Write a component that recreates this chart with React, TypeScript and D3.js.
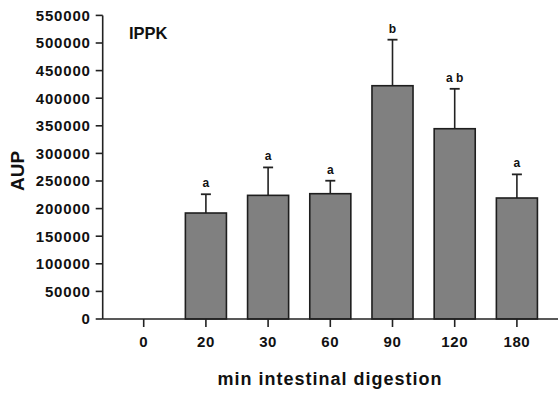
import React from "react";
import * as d3 from "d3";

const categories = ["0", "20", "30", "60", "90", "120", "180"];
const means = [0, 192000, 224000, 227000, 422600, 344700, 219200];
const errors = [0, 34000, 50600, 23500, 83400, 72300, 42800];
const letters = ["", "a", "a", "a", "b", "a b", "a"];
const yTicks = [0, 50000, 100000, 150000, 200000, 250000, 300000, 350000, 400000, 450000, 500000, 550000];

const W = 558;
const H = 394;
const FONT = "'Liberation Sans', Arial, sans-serif";

export default function App() {
  const axisX = 102.7;
  const axisY = 319;
  const y = d3.scaleLinear().domain([0, 550000]).range([axisY, 15.4]);
  const x = d3
    .scaleBand<string>()
    .domain(categories)
    .range([112.6, 548])
    .paddingInner(0.34)
    .paddingOuter(0.17);
  const bw = x.bandwidth();

  return (
    <svg
      width={W}
      height={H}
      style={{ position: "absolute", left: 0, top: 0, background: "#fff" }}
      fontFamily={FONT}
    >
      <rect width={W} height={H} fill="#fff" />
      {/* bars */}
      {categories.map((c, i) => {
        if (means[i] <= 0) return null;
        const x0 = x(c)!;
        const cx = x0 + bw / 2;
        const top = y(means[i]);
        const et = y(means[i] + errors[i]);
        return (
          <g key={c}>
            <line x1={cx} x2={cx} y1={top} y2={et} stroke="#222" strokeWidth={1.6} />
            <line x1={cx - 5} x2={cx + 5} y1={et} y2={et} stroke="#222" strokeWidth={1.8} />
            <rect
              x={x0}
              y={top}
              width={bw}
              height={axisY - top}
              fill="#808080"
              stroke="#1e1e1e"
              strokeWidth={1.6}
            />
            <text
              x={cx}
              y={et - 7}
              textAnchor="middle"
              fontSize={12}
              fontWeight="bold"
              fill="#111"
            >
              {letters[i]}
            </text>
          </g>
        );
      })}
      {/* y axis */}
      <line x1={axisX} x2={axisX} y1={y(550000)} y2={axisY} stroke="#222" strokeWidth={1.6} />
      {yTicks.map((t) => (
        <g key={t}>
          <line x1={axisX - 7} x2={axisX} y1={y(t)} y2={y(t)} stroke="#222" strokeWidth={1.6} />
          <text
            x={axisX - 12}
            y={y(t)}
            dy="0.36em"
            textAnchor="end"
            fontSize={15}
            fontWeight="bold"
            letterSpacing={0.8}
            fill="#111"
          >
            {t}
          </text>
        </g>
      ))}
      {/* x axis */}
      <line x1={axisX} x2={W} y1={axisY} y2={axisY} stroke="#222" strokeWidth={1.6} />
      {categories.map((c) => {
        const cx = x(c)! + bw / 2;
        return (
          <g key={c}>
            <line x1={cx} x2={cx} y1={axisY} y2={axisY + 8} stroke="#222" strokeWidth={1.6} />
            <text
              x={cx}
              y={347}
              textAnchor="middle"
              fontSize={15}
              fontWeight="bold"
              letterSpacing={0.6}
              fill="#111"
            >
              {c}
            </text>
          </g>
        );
      })}
      <text
        x={330}
        y={385}
        textAnchor="middle"
        fontSize={18}
        fontWeight="bold"
        letterSpacing={1}
        fill="#111"
      >
        min intestinal digestion
      </text>
      <text
        transform={`translate(24,171) rotate(-90)`}
        textAnchor="middle"
        fontSize={19}
        fontWeight="bold"
        fill="#111"
      >
        AUP
      </text>
      <text x={129} y={38.5} fontSize={16.5} fontWeight="bold" fill="#111">
        IPPK
      </text>
    </svg>
  );
}
